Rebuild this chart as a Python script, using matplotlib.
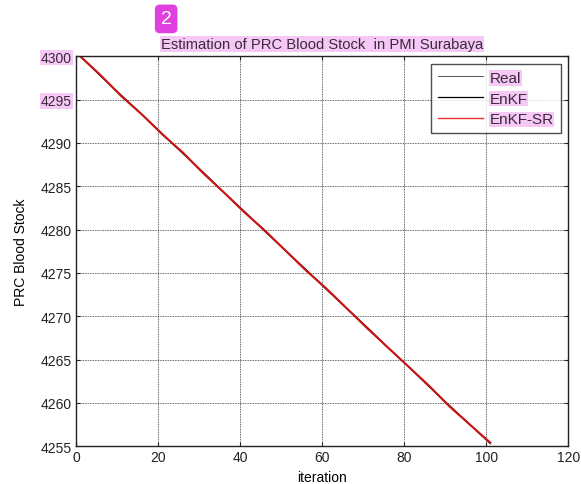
import numpy as np
import matplotlib.pyplot as plt

plt.rcParams['font.family'] = ['Liberation Sans', 'DejaVu Sans']
plt.rcParams['font.size'] = 8

# sampled every 5 iterations
iteration = [1, 6, 11, 16, 21, 26, 31, 36, 41, 46, 51,
             56, 61, 66, 71, 76, 81, 86, 91, 96, 101]
real = [4300.0, 4297.8, 4295.5, 4293.3, 4291.1, 4288.8, 4286.6, 4284.3,
        4282.1, 4279.9, 4277.6, 4275.4, 4273.2, 4270.9, 4268.7, 4266.4,
        4264.2, 4262.0, 4259.7, 4257.5, 4255.3]
enkf = [4300.0, 4297.7, 4295.5, 4293.3, 4291.0, 4288.8, 4286.6, 4284.3,
        4282.1, 4279.8, 4277.6, 4275.4, 4273.1, 4270.9, 4268.7, 4266.4,
        4264.2, 4261.9, 4259.7, 4257.5, 4255.3]
enkf_sr = [4300.0, 4297.8, 4295.4, 4293.3, 4291.0, 4288.9, 4286.5, 4284.3,
           4282.0, 4279.9, 4277.6, 4275.3, 4273.2, 4270.9, 4268.6, 4266.4,
           4264.2, 4262.0, 4259.6, 4257.5, 4255.4]

hl = dict(boxstyle='square,pad=0.05', facecolor='#f6c8f6', edgecolor='none')

fig = plt.figure(figsize=(5.81, 4.85), dpi=100)
ax = fig.add_axes([0.131, 0.078, 0.847, 0.804])

ax.plot(iteration, real, color='#555555', lw=0.7, label='Real')
ax.plot(iteration, enkf, color='black', lw=0.9, label='EnKF')
ax.plot(iteration, enkf_sr, color='#cc1414', lw=1.5, label='EnKF-SR')

ax.set_xlim(0, 120)
ax.set_ylim(4255, 4300)
ax.set_xticks(np.arange(0, 121, 20))
ax.set_yticks(np.arange(4255, 4301, 5))
ax.grid(True, color='#333333', linestyle=(0, (1, 1)), lw=0.6)
ax.tick_params(direction='in', length=3, top=True, right=True, labelsize=10,
               colors='#222222', pad=3)
for s in ax.spines.values():
    s.set_linewidth(1.0)
    s.set_color('#222222')

ax.set_xlabel('iteration', fontsize=10, labelpad=4)
ax.set_ylabel('PRC Blood Stock', fontsize=10, labelpad=9)
ax.set_title('Estimation of PRC Blood Stock  in PMI Surabaya', fontsize=10.6,
             pad=6, color='#3a2a3a', bbox=hl)

for lbl in ax.get_yticklabels():
    if lbl.get_text() in ('4300', '4295'):
        lbl.set_bbox(hl)
        lbl.set_color('#3a2a3a')

leg = ax.legend(loc='upper right', fontsize=11, frameon=True, fancybox=False,
                edgecolor='#222222', borderaxespad=0.5, handlelength=3.0,
                handletextpad=0.4, labelspacing=0.45, borderpad=0.45)
leg.get_frame().set_linewidth(1.0)
leg.get_lines()[2].set_color('#f03030')
leg.get_lines()[2].set_linewidth(1.0)
for t in leg.get_texts():
    t.set_bbox(hl)
    t.set_color('#3a2a3a')

fig.text(0.286, 0.959, '2', fontsize=14, color='white', ha='center',
         va='center',
         bbox=dict(boxstyle='round,pad=0.3,rounding_size=0.25',
                   facecolor='#e040e0', edgecolor='none'))

fig.savefig('out.png', dpi=100)
